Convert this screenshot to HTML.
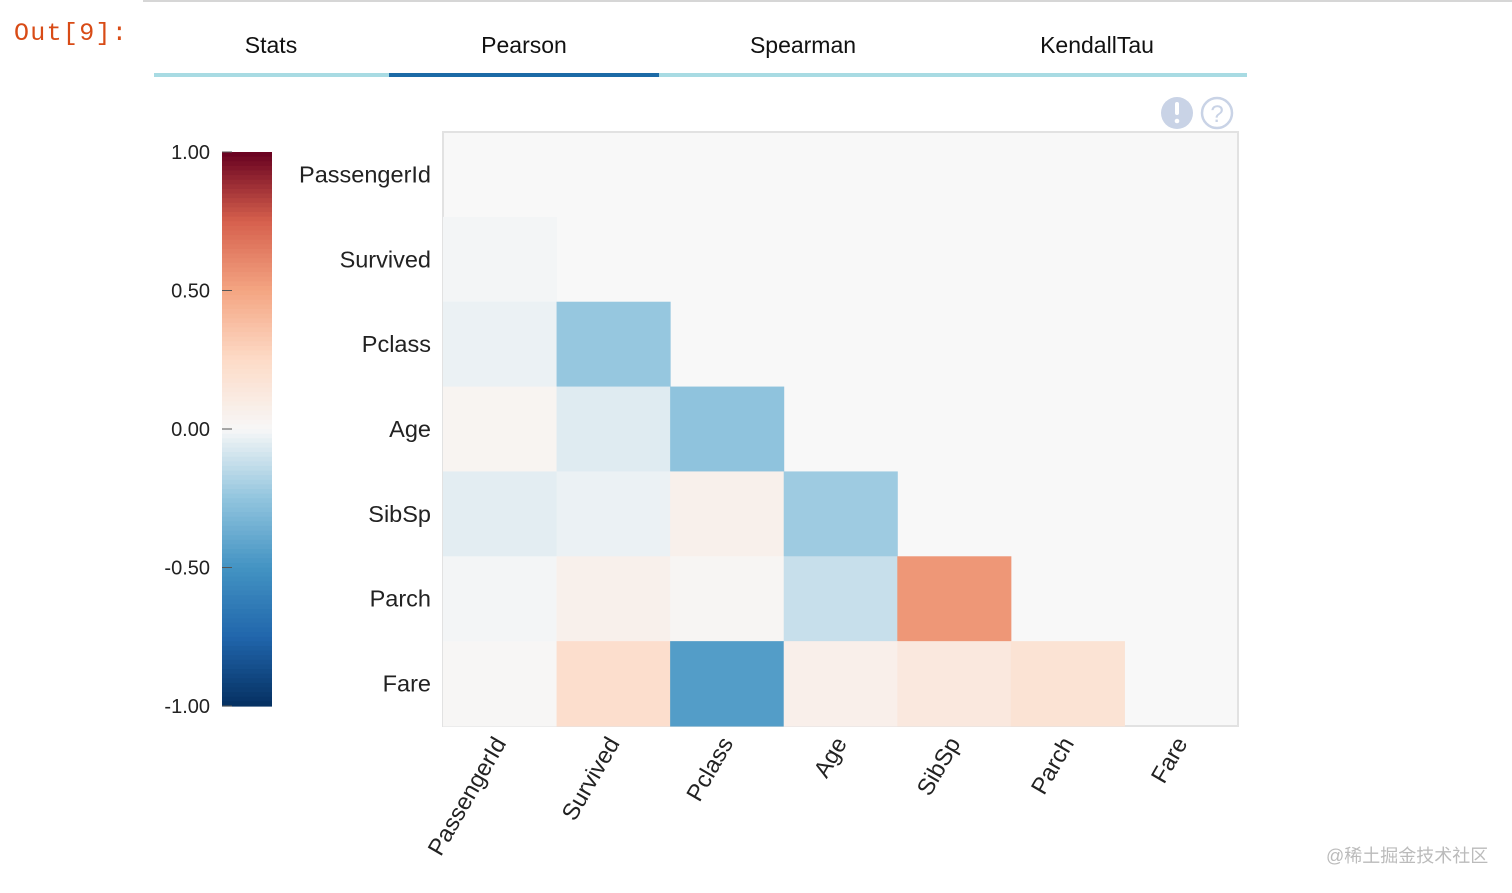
<!DOCTYPE html>
<html><head><meta charset="utf-8"><style>
body{margin:0;background:#fff;width:1512px;height:888px;overflow:hidden;font-family:"Liberation Sans",Arial,sans-serif}
</style></head><body>
<svg id="chart" width="1512" height="888" xmlns="http://www.w3.org/2000/svg" font-family="Liberation Sans, Arial, sans-serif">
<rect x="143" y="0" width="1369" height="2" fill="#d6d6d6"/>
<text x="14" y="40" font-family="Liberation Mono, monospace" font-size="25" letter-spacing="1.3" fill="#d84b16">Out[9]:</text>
<g>
<rect x="154" y="73" width="1093" height="4" fill="#a8dbe3"/>
<rect x="389" y="73" width="270" height="4" fill="#1c6aa6"/>
<text x="271" y="53" font-size="23" text-anchor="middle" fill="#111">Stats</text>
<text x="524" y="53" font-size="23" text-anchor="middle" fill="#111">Pearson</text>
<text x="803" y="53" font-size="23" text-anchor="middle" fill="#111">Spearman</text>
<text x="1097" y="53" font-size="23" text-anchor="middle" fill="#111">KendallTau</text>
</g>
<g><circle cx="1177" cy="113" r="16" fill="#c9d3e6"/><rect x="1175" y="102" width="4" height="13" rx="2" fill="#fff"/><circle cx="1177" cy="121" r="2.3" fill="#fff"/></g>
<g><circle cx="1217" cy="113" r="15" fill="none" stroke="#c9d3e6" stroke-width="2.5"/><text x="1217" y="122" font-size="24" text-anchor="middle" fill="#c9d3e6">?</text></g>
<rect x="443" y="132" width="795" height="594" fill="#f8f8f8" stroke="#e2e2e2" stroke-width="2"/>
<g id="cells"></g><g id="labels"></g><g id="cbar"></g>
</svg>
<script>
const categories=["PassengerId","Survived","Pclass","Age","SibSp","Parch","Fare"];
const corrRows=[
[],
[-0.01],
[-0.03,-0.24],
[0.03,-0.06,-0.26],
[-0.05,-0.03,0.06,-0.22],
[-0.01,0.06,0.02,-0.12,0.55],
[0.01,0.22,-0.45,0.07,0.13,0.18]];
const cbTicks=[1,0.5,0,-0.5,-1];
const cbTickLabels=["1.00","0.50","0.00","-0.50","-1.00"];
const NS="http://www.w3.org/2000/svg";
const stops=[[0,[5,48,97]],[0.125,[33,102,172]],[0.25,[67,147,195]],[0.375,[146,197,222]],[0.5,[247,247,247]],[0.625,[253,219,199]],[0.75,[244,165,130]],[0.875,[214,96,77]],[1,[103,0,31]]];
function color(v){let t=(v+1)/2;t=Math.max(0,Math.min(1,t));for(let i=1;i<stops.length;i++){if(t<=stops[i][0]){const a=stops[i-1],b=stops[i],f=(t-a[0])/(b[0]-a[0]);return "rgb("+a[1].map((c,k)=>Math.round(c+(b[1][k]-c)*f)).join(",")+")";}}return "rgb(103,0,31)";}
const X0=443,Y0=132,W=795,H=594,n=categories.length,cw=W/n,ch=H/n;
const xs=i=>X0+i*cw, ys=j=>Y0+j*ch;
const cells=document.getElementById('cells');
corrRows.forEach((row,r)=>row.forEach((v,c)=>{const e=document.createElementNS(NS,'rect');


e.setAttribute('x',xs(c));e.setAttribute('y',ys(r));e.setAttribute('width',cw+0.5);e.setAttribute('height',ch+0.5);e.setAttribute('fill',color(v));cells.appendChild(e);}));
const lab=document.getElementById('labels');
categories.forEach((name,i)=>{let t=document.createElementNS(NS,'text');


t.setAttribute('x',431);t.setAttribute('y',ys(i)+ch/2+8);t.setAttribute('text-anchor','end');t.setAttribute('font-size','23.5');t.setAttribute('fill','#222');t.textContent=name;lab.appendChild(t);
t=document.createElementNS(NS,'text');


const ax=xs(i)+cw/2+7,ay=743;t.setAttribute('x',ax);t.setAttribute('y',ay);t.setAttribute('text-anchor','end');t.setAttribute('font-size','23.5');t.setAttribute('fill','#222');t.setAttribute('transform','rotate(-60 '+ax+' '+ay+')');t.textContent=name;lab.appendChild(t);});
const cb=document.getElementById('cbar');const CT=152,CB=706,cbY=v=>CT+(1-v)/2*(CB-CT);
const steps=120;for(let k=0;k<steps;k++){const v1=1-2*k/steps;const e=document.createElementNS(NS,'rect');


e.setAttribute('x',222);e.setAttribute('y',cbY(v1));e.setAttribute('width',50);e.setAttribute('height',(CB-CT)/steps+0.6);e.setAttribute('fill',color(v1-1/steps));cb.appendChild(e);}
cbTicks.forEach((v,i)=>{const l=document.createElementNS(NS,'line');


l.setAttribute('x1',222);l.setAttribute('x2',232);l.setAttribute('y1',cbY(v));l.setAttribute('y2',cbY(v));l.setAttribute('stroke','#555');cb.appendChild(l);
const t=document.createElementNS(NS,'text');


t.setAttribute('x',210);t.setAttribute('y',cbY(v)+7);t.setAttribute('text-anchor','end');t.setAttribute('font-size','20');t.setAttribute('fill','#222');t.textContent=cbTickLabels[i];cb.appendChild(t);});
</script>
<div style="position:absolute;left:1326px;top:842px;font-size:18px;color:#bbb;font-family:'Liberation Sans','Noto Sans CJK SC',sans-serif">@稀土掘金技术社区</div>
</body></html>
